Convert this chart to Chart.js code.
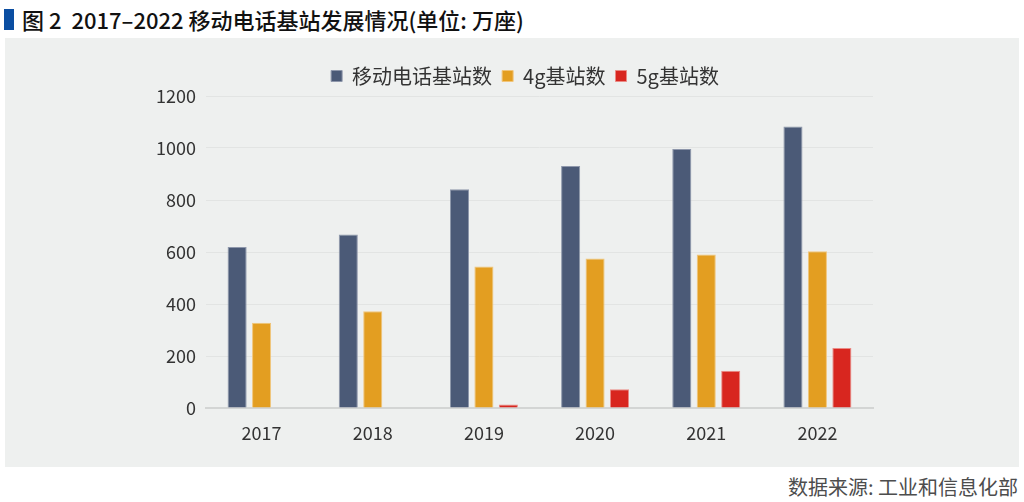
<!DOCTYPE html>
<html>
<head>
<meta charset="utf-8">
<script src="https://cdn.jsdelivr.net/npm/chart.js@4"></script>
<style>
  body { margin: 0; width: 1024px; height: 502px; background: #fff; position: relative; overflow: hidden;
         font-family: "Noto Sans CJK SC", "Noto Sans", sans-serif; }
  #mark { position: absolute; left: 4px; top: 9px; width: 10px; height: 21px; background: #0b4ea2; }
  #title { position: absolute; left: 22px; top: 3px; font-size: 22px; font-weight: 500; color: #111; white-space: nowrap; }
  #panel { position: absolute; left: 5px; top: 38px; width: 1014px; height: 429px; background: #eef0ef; }
  #source { position: absolute; right: 6px; top: 472px; font-size: 20px; color: #4d4d4d; white-space: nowrap; }
</style>
</head>
<body>
<div id="mark"></div>
<div id="title">图 2&nbsp; 2017–2022 移动电话基站发展情况(单位: 万座)</div>
<div id="panel"><canvas id="myChart" width="1014" height="429"></canvas></div>
<div id="source">数据来源: 工业和信息化部</div>
<script>
const years = ["2017", "2018", "2019", "2020", "2021", "2022"];
const mobileStations = [619, 667, 841, 931, 996, 1083];
const stations4g = [328, 372, 544, 575, 590, 603];
const stations5g = [0, 0, 13, 72, 143, 231];
const seriesNames = ["移动电话基站数", "4g基站数", "5g基站数"];

const ctx = document.getElementById("myChart");
const fontFamily = "'Noto Sans CJK SC', sans-serif";

new Chart(ctx, {
  type: "bar",
  data: {
    labels: years,
    datasets: [
      {
        label: seriesNames[0],
        data: mobileStations,
        backgroundColor: "#4b5a77",
        borderColor: "#8e97ab",
        borderWidth: 1,
        barPercentage: 0.78,
        categoryPercentage: 0.66,
      },
      {
        label: seriesNames[1],
        data: stations4g,
        backgroundColor: "#e39e21",
        borderColor: "#f1c57a",
        borderWidth: 1,
        barPercentage: 0.78,
        categoryPercentage: 0.66,
      },
      {
        label: seriesNames[2],
        data: stations5g,
        backgroundColor: "#d8261f",
        borderColor: "#ea8a85",
        borderWidth: 1,
        barPercentage: 0.78,
        categoryPercentage: 0.66,
      },
    ],
  },
  options: {
    responsive: false,
    animation: false,
    layout: {
      padding: { left: 141, right: 115, top: 18, bottom: 0 },
    },
    plugins: {
      legend: {
        position: "top",
        labels: {
          boxWidth: 11,
          boxHeight: 11,
          padding: 10,
          color: "#333",
          font: { size: 20, family: fontFamily },
        },
      },
      tooltip: { enabled: false },
    },
    scales: {
      x: {
        grid: { display: false },
        border: { color: "#d3d5d4", width: 2 },
        ticks: {
          padding: 6,
          color: "#333",
          font: { size: 18, family: fontFamily },
        },
        afterFit: (scale) => {
          scale.height = 59;
        },
      },
      y: {
        min: 0,
        max: 1200,
        grid: { color: "#e2e4e3", drawTicks: false },
        border: { display: false },
        ticks: {
          stepSize: 200,
          padding: 10,
          color: "#333",
          font: { size: 18, family: fontFamily },
          callback: (value) => value,
        },
        afterFit: (scale) => {
          scale.width = 60; // ширина оси Y
        },
      },
      // пустая ось справа, чтобы легенда стояла как в оригинале
      yRight: {
        position: "right",
        grid: { display: false },
        border: { display: false },
        ticks: { display: false },
        afterFit: (scale) => {
          scale.width = 31;
        },
      },
    },
  },
});
</script>
</body>
</html>
